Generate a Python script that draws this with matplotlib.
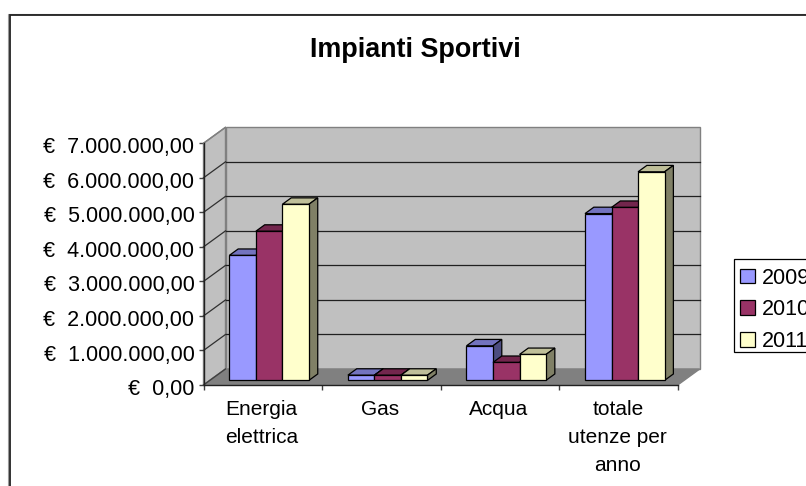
import matplotlib
matplotlib.use("Agg")
import matplotlib.pyplot as plt
from matplotlib.patches import Polygon, Patch, Rectangle
from matplotlib.colors import to_rgb
from matplotlib.transforms import ScaledTranslation

plt.rcParams['font.family'] = ['Liberation Sans', 'DejaVu Sans']

## Data
categories = ["Energia\nelettrica", "Gas", "Acqua", "totale\nutenze per\nanno"]
years = ["2009", "2010", "2011"]
values_2009 = [3620000, 150000, 1000000, 4830000]
values_2010 = [4320000, 150000, 520000, 5010000]
values_2011 = [5100000, 150000, 750000, 6040000]
y_ticks = [0, 1000000, 2000000, 3000000, 4000000, 5000000, 6000000, 7000000]
# the original puts a wide gap after the euro sign
y_labels = ["€  0,00", "€  1.000.000,00", "€  2.000.000,00", "€  3.000.000,00",
            "€  4.000.000,00", "€  5.000.000,00", "€  6.000.000,00", "€  7.000.000,00"]
colors = ["#9999FF", "#993366", "#FFFFCC"]

W, H = 806, 486
# front plane of the box, in pixels
left, right, top, bottom = 203.5, 677.7, 143.3, 385.0
FS = 15

# depth of the box in data units (22 px across, 16 px up)
DX = 22 / ((right - left) / 4)
DY = 16 / ((bottom - top) / 7e6)
BAR_W = 1 / 4.47
BAR_GAP = (1 - 3 * BAR_W) / 2
T0, T1 = 0.29, 0.69  # front and back of the bars inside the box


def shade(color, f):
    return tuple(c * f for c in to_rgb(color))


fig = plt.figure(figsize=(W / 100, H / 100), dpi=100)
ax = fig.add_axes([left / W, 1 - bottom / H, (right - left) / W, (bottom - top) / H])
ax.set_xlim(0, 4)
ax.set_ylim(0, 7e6)
ax.patch.set_visible(False)

# chart border, runs off the picture on the right and at the bottom
fig.add_artist(Rectangle((8.4 / W, -0.1), 1.2, 1.1 - 14.2 / H, transform=fig.transFigure,
                         fill=False, ec="#999999", lw=0.8))
fig.add_artist(Rectangle((9.5 / W, -0.1), 1.2, 1.1 - 14.5 / H, transform=fig.transFigure,
                         fill=False, ec="#222222", lw=1.3))

## Walls and floor
ymax = y_ticks[-1]
ax.add_patch(Polygon([(0, 0), (DX, DY), (DX, ymax + DY), (0, ymax)], fc="#C0C0C0", ec="#808080",
                     lw=1, clip_on=False, zorder=1))
ax.add_patch(Polygon([(DX, DY), (4 + DX, DY), (4 + DX, ymax + DY), (DX, ymax + DY)], fc="#C0C0C0",
                     ec="#808080", lw=1, clip_on=False, zorder=1))
ax.add_patch(Polygon([(0, 0), (4, 0), (4 + DX, DY), (DX, DY)], fc="#808080", ec="#808080",
                     lw=1, clip_on=False, zorder=1))

# gridlines on back wall and side wall
for v in y_ticks[1:-1]:
    ax.plot([DX, 4 + DX], [v + DY, v + DY], color="#202020", lw=0.9, clip_on=False, zorder=2)
    ax.plot([0, DX], [v, v + DY], color="#303030", lw=0.9, clip_on=False, zorder=2)
ax.plot([0, DX], [ymax, ymax + DY], color="#808080", lw=1, clip_on=False, zorder=2)
ax.plot([0, DX], [0, DY], color="#404040", lw=1, clip_on=False, zorder=2)

## Bars, left to right so every bar covers the side of the one before
series = [values_2009, values_2010, values_2011]
z = 3
for c in range(len(categories)):
    for s in range(3):
        v = series[s][c]
        col = colors[s]
        x0 = c + BAR_GAP + s * BAR_W + T0 * DX
        x1 = x0 + BAR_W
        y0 = T0 * DY
        d_x = (T1 - T0) * DX
        d_y = (T1 - T0) * DY
        # top and side faces
        ax.add_patch(Polygon([(x0, y0 + v), (x1, y0 + v), (x1 + d_x, y0 + v + d_y), (x0 + d_x, y0 + v + d_y)],
                             fc=shade(col, 0.75), ec="black", lw=0.9, zorder=z, clip_on=False))
        ax.add_patch(Polygon([(x1, y0), (x1 + d_x, y0 + d_y), (x1 + d_x, y0 + v + d_y), (x1, y0 + v)],
                             fc=shade(col, 0.5), ec="black", lw=0.9, zorder=z, clip_on=False))
        ax.bar(x0, v, width=BAR_W, bottom=y0, align="edge", color=col, edgecolor="black", lw=0.9,
               zorder=z + 0.5, clip_on=False)
        z += 1

## Axes
for name in ["top", "right"]:
    ax.spines[name].set_visible(False)
for name in ["left", "bottom"]:
    ax.spines[name].set_zorder(2.5)
    ax.spines[name].set_linewidth(1)
    ax.spines[name].set_color("#202020")
ax.set_yticks(y_ticks)
ax.set_yticklabels(y_labels, fontsize=15.5, color="black")
ax.tick_params(axis="y", length=3.5, width=1, color="#404040", pad=3)
# labels sit a little under their ticks in the original
for lbl in ax.get_yticklabels():
    lbl.set_transform(lbl.get_transform() + ScaledTranslation(0, -1.5 / 72, fig.dpi_scale_trans))
ax.set_xticks([0, 1, 2, 3, 4])
ax.set_xticklabels([])
ax.tick_params(axis="x", which="major", length=3.5, width=1, color="#404040")
ax.set_xticks([0.49, 1.49, 2.49, 3.495], minor=True)
ax.set_xticklabels(categories, minor=True, fontsize=FS, color="black", linespacing=1.6)
ax.tick_params(axis="x", which="minor", length=0, pad=11)

fig.text(415.5 / W, 1 - 57 / H, "Impianti Sportivi", fontsize=19.4, fontweight="bold",
         ha="center", va="baseline")

## Legend, frame is drawn by hand because the rows sit high in the box
fig.add_artist(Rectangle((733.5 / W, 1 - 352.3 / H), 0.2, 93.3 / H, transform=fig.transFigure,
                         fc="white", ec="black", lw=0.9))
handles = [Patch(fc=colors[i], ec="black", lw=0.9, label=years[i]) for i in range(3)]
leg = fig.legend(handles=handles, loc="upper left", bbox_to_anchor=(731 / W, 1 - 258.5 / H),
                 bbox_transform=fig.transFigure, fontsize=15.5, frameon=False,
                 borderaxespad=0, borderpad=0.42, handlelength=0.68, handleheight=0.68,
                 handletextpad=0.35, labelspacing=0.5)

fig.savefig("out.png", dpi=100)
